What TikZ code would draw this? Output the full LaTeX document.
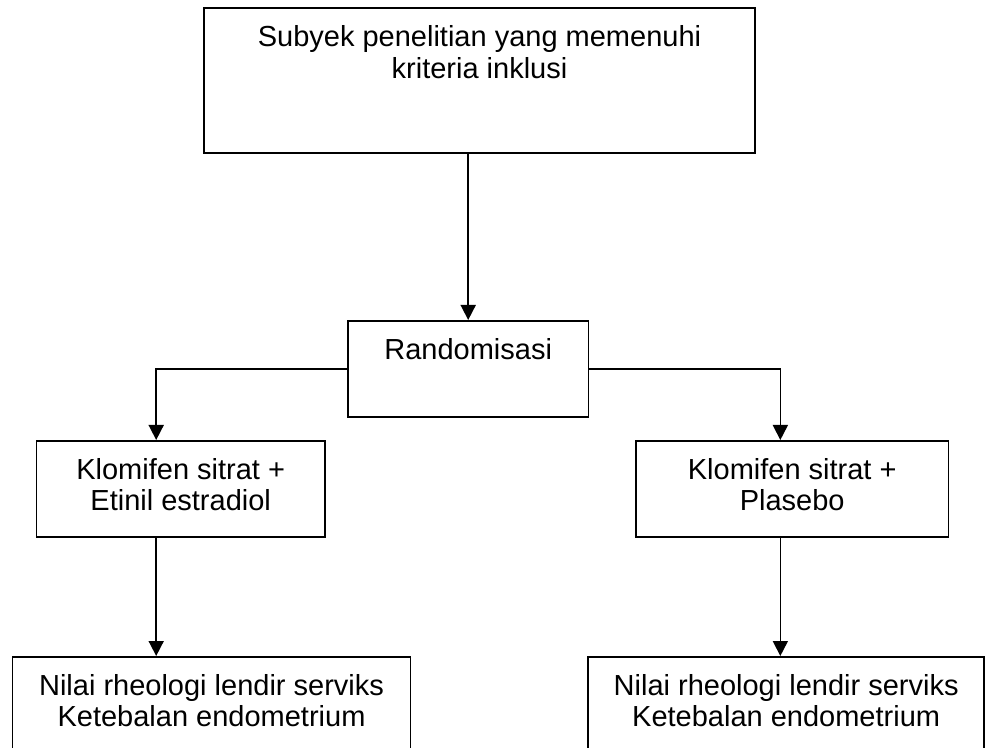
\documentclass[tikz,border=0pt]{standalone}
\usepackage{fontspec}
\setmainfont{Liberation Sans}
\usetikzlibrary{arrows.meta}
\usetikzlibrary{positioning}

\newcommand{\toppad}{\rule{0pt}{19.2pt}}
\newcommand{\botpad}[1]{\rule[-#1]{0pt}{0pt}}

\begin{document}
\begin{tikzpicture}[x=0.5pt, y=-0.5pt, line width=0.85pt,
  >={Triangle[length=7.5pt,width=7.5pt]},
  kotak/.style={rectangle, draw, anchor=north west, inner sep=0pt, align=center,
    font=\fontsize{14.5pt}{15.85pt}\selectfont}]

\useasboundingbox (0,0) rectangle (985,748);
\clip (0,0) rectangle (985,748);

\node[kotak, minimum width=275.35pt] (subyek) at (203.3,7.3) {\toppad Subyek penelitian yang memenuhi\\ kriteria inklusi\botpad{37.35pt}};
\node[kotak, minimum width=120.35pt] (rand) at (347,320) {\toppad Randomisasi\botpad{28.85pt}};
\node[kotak, minimum width=144.15pt] (kiri) at (35.7,440) {\toppad Klomifen sitrat +\\ Etinil estradiol\botpad{12.85pt}};
\node[kotak, minimum width=156.35pt] (kanan) at (635,440) {\toppad Klomifen sitrat +\\ Plasebo\botpad{12.85pt}};
\node[kotak, minimum width=199pt] (hasilkiri) at (11.7,656) {\toppad Nilai rheologi lendir serviks\\ Ketebalan endometrium\botpad{40pt}};
\node[kotak, minimum width=198pt] (hasilkanan) at (587.3,656) {\toppad Nilai rheologi lendir serviks\\ Ketebalan endometrium\botpad{40pt}};

\path[->] (subyek.south -| rand.north) edge (rand.north);
\draw[->] (rand.west) -| ([xshift=-12.25pt]kiri.north);
\draw[->] (rand.east) -| ([xshift=-5.93pt]kanan.north);
\path[->] ([xshift=-12.25pt]kiri.south) edge ([xshift=-12.25pt]kiri.south |- hasilkiri.north);
\path[->] ([xshift=-5.93pt]kanan.south) edge ([xshift=-5.93pt]kanan.south |- hasilkanan.north);
\end{tikzpicture}
\end{document}
